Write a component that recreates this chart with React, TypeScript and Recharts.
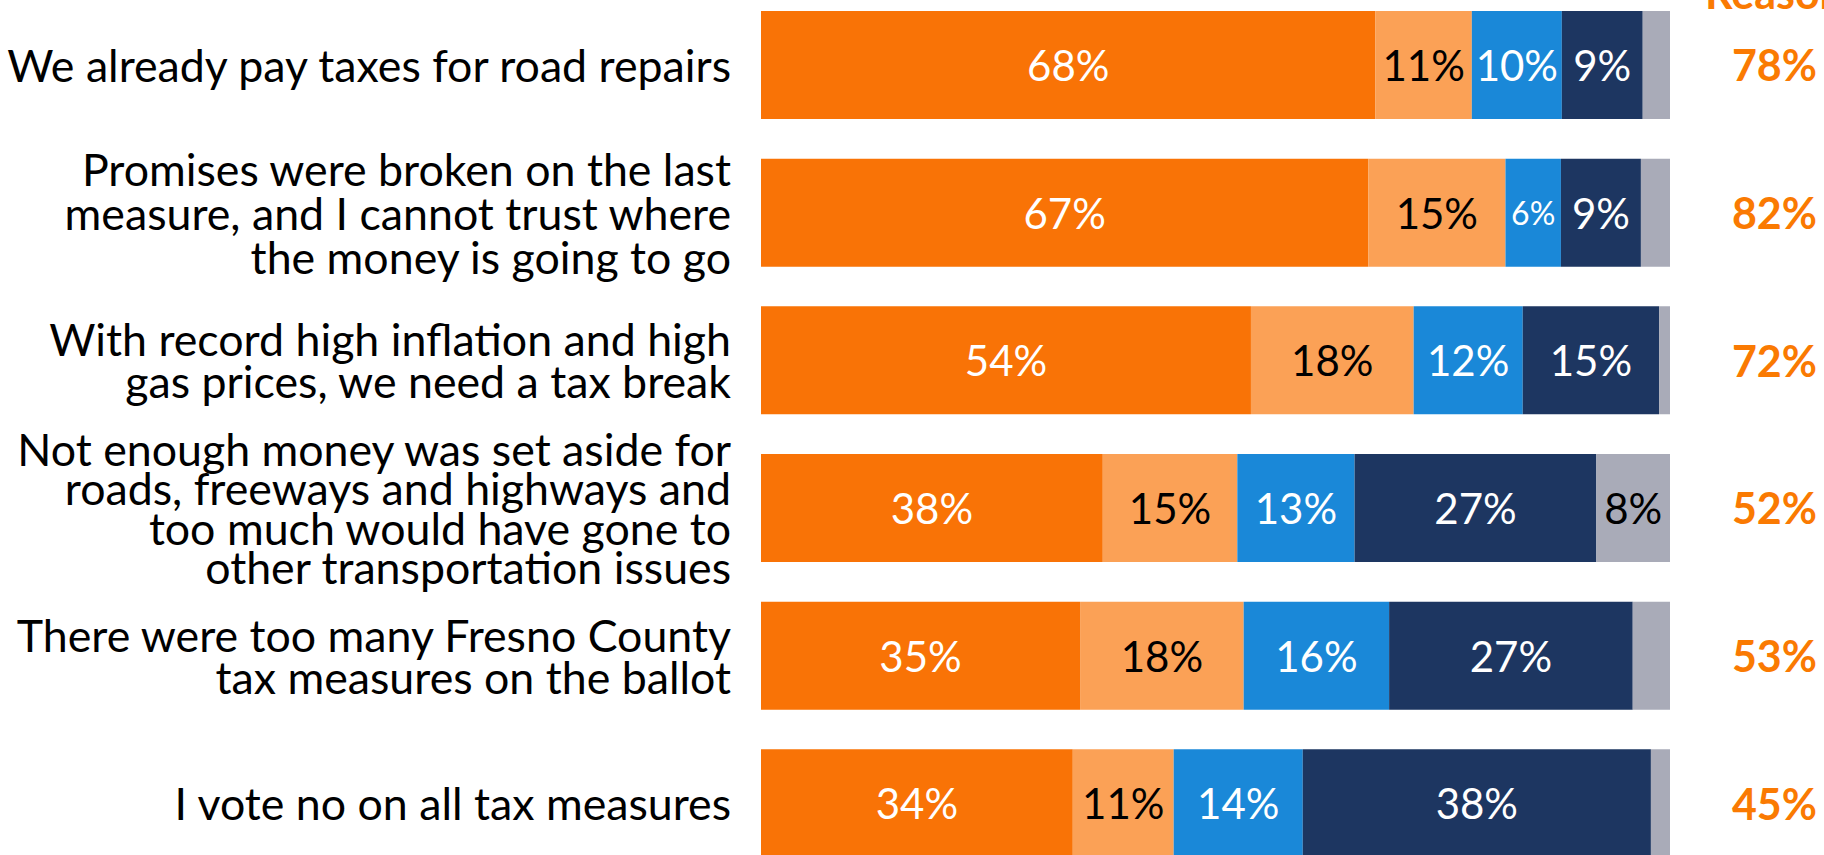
import { BarChart, Bar, XAxis, YAxis, LabelList } from "recharts";

// ─── Data ───────────────────────────────────────────────────────────────────

const categories = [
  "We already pay taxes for road repairs",
  "Promises were broken on the last\nmeasure, and I cannot trust where\nthe money is going to go",
  "With record high inflation and high\ngas prices, we need a tax break",
  "Not enough money was set aside for\nroads, freeways and highways and\ntoo much would have gone to\nother transportation issues",
  "There were too many Fresno County\ntax measures on the ballot",
  "I vote no on all tax measures",
];

const veryConvincing = [67.6, 66.8, 53.9, 37.6, 35.1, 34.3];
const somewhatConvincing = [10.6, 15.1, 17.9, 14.8, 18.0, 11.1];
const notTooConvincing = [9.9, 6.1, 12.0, 12.9, 16.0, 14.2];
const notAtAllConvincing = [8.9, 8.8, 15.0, 26.6, 26.8, 38.3];
const dontKnow = [3.0, 3.2, 1.2, 8.1, 4.1, 2.1];
const totalConvincing = ["78%", "82%", "72%", "52%", "53%", "45%"];

const data = categories.map((category, i) => ({
  category,
  total: totalConvincing[i],
  very: veryConvincing[i],
  somewhat: somewhatConvincing[i],
  notToo: notTooConvincing[i],
  notAtAll: notAtAllConvincing[i],
  dk: dontKnow[i],
}));

const FONT = "Lato, 'Open Sans', sans-serif";
const TOTAL_ORANGE = "#FA7A02";

// ─── Ticks & labels ─────────────────────────────────────────────────────────

function CategoryTick({ x, y, payload }: any) {
  const lines = String(payload.value).split("\n");
  const lh = lines.length >= 4 ? 39.5 : lines.length === 3 ? 44 : 42;
  const start = -((lines.length - 1) / 2) * lh;
  return (
    <text
      x={x}
      y={y}
      textAnchor="end"
      fontFamily={FONT}
      fontSize={44.7}
      fill="#000"
    >
      {lines.map((line, i) => (
        <tspan key={i} x={x} y={y + start + i * lh} dominantBaseline="central">
          {line}
        </tspan>
      ))}
    </text>
  );
}

function TotalTick({ x, y, payload }: any) {
  return (
    <text
      x={x}
      y={y}
      textAnchor="end"
      dominantBaseline="central"
      fontFamily={FONT}
      fontSize={43}
      fontWeight={700}
      fill={TOTAL_ORANGE}
    >
      {payload.value}
    </text>
  );
}

function segmentLabel(color: string) {
  return (props: any) => {
    const { x, y, width, height, value } = props;
    if (width < 45) return null;
    const size = width < 65 ? 32 : 42;
    return (
      <text
        x={x + width / 2}
        y={y + height / 2}
        textAnchor="middle"
        dominantBaseline="central"
        fontFamily={FONT}
        fontSize={size}
        fill={color}
      >
        {`${Math.round(value)}%`}
      </text>
    );
  };
}

// ─── Chart ──────────────────────────────────────────────────────────────────

const series = [
  { key: "very", name: "Very convincing", fill: "#F97306", text: "#fff" },
  { key: "somewhat", name: "Somewhat convincing", fill: "#FBA156", text: "#000" },
  { key: "notToo", name: "Not too convincing", fill: "#1A88D8", text: "#fff" },
  { key: "notAtAll", name: "Not at all convincing", fill: "#1D3661", text: "#fff" },
  { key: "dk", name: "Don't know", fill: "#A9ABB8", text: "#000" },
];

export default function App() {
  return (
    <div
      style={{
        position: "fixed",
        top: 0,
        left: 0,
        width: 1824,
        height: 855,
        overflow: "hidden",
        background: "#fff",
      }}
    >
      <svg
        width={1824}
        height={40}
        style={{ position: "absolute", top: 0, left: 0 }}
      >
        <text
          x={1705}
          y={9}
          fontFamily={FONT}
          fontSize={43}
          fontWeight={700}
          fill={TOTAL_ORANGE}
        >
          Reasons
        </text>
      </svg>
      <div style={{ position: "absolute", top: -9, left: 0 }}>
        <BarChart
          width={1824}
          height={886}
          data={data}
          layout="vertical"
          margin={{ top: 0, right: 0, bottom: 0, left: 0 }}
          barSize={108}
        >
          <XAxis type="number" domain={[0, 100]} hide />
          <YAxis
            yAxisId="left"
            type="category"
            dataKey="category"
            width={761}
            axisLine={false}
            tickLine={false}
            tickSize={0}
            tickMargin={30}
            interval={0}
            tick={<CategoryTick />}
          />
          <YAxis
            yAxisId="right"
            orientation="right"
            type="category"
            dataKey="total"
            width={154}
            axisLine={false}
            tickLine={false}
            tickSize={0}
            tickMargin={147}
            interval={0}
            tick={<TotalTick />}
          />
          {series.map((s) => (
            <Bar
              key={s.key}
              yAxisId="left"
              dataKey={s.key}
              name={s.name}
              stackId="a"
              fill={s.fill}
              isAnimationActive={false}
            >
              <LabelList dataKey={s.key} content={segmentLabel(s.text)} />
            </Bar>
          ))}
        </BarChart>
      </div>
    </div>
  );
}
